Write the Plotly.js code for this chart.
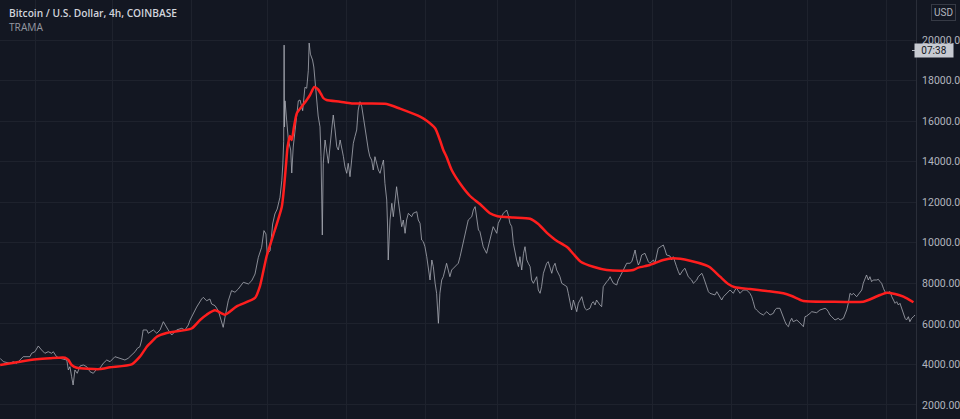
<!DOCTYPE html>
<html>
<head>
<meta charset="utf-8">
<script src="https://cdn.plot.ly/plotly-3.0.1.min.js"></script>
<style>
  html, body { margin: 0; padding: 0; background: #131722; }
  #chart { width: 960px; height: 419px; }
</style>
</head>
<body>
<div id="chart"></div>
<script>
// ---- Data ----
const chartTitle = 'Bitcoin / U.S. Dollar, 4h, COINBASE';
const indicatorName = 'TRAMA';
const currencyLabel = 'USD';
const countdownLabel = '07:38';

const priceTime = [
'2017-08-17 22:00','2017-08-19 05:00','2017-08-21 20:00','2017-08-23 02:00','2017-08-24 10:00','2017-08-25 17:00','2017-08-27 00:00','2017-08-29 15:00','2017-08-30 07:00','2017-08-31 14:00',
'2017-09-01 22:00','2017-09-03 05:00','2017-09-04 12:00','2017-09-05 19:00','2017-09-07 04:00','2017-09-07 19:00','2017-09-09 02:00','2017-09-10 10:00','2017-09-11 17:00','2017-09-13 02:00',
'2017-09-13 17:00','2017-09-14 08:00','2017-09-15 00:00','2017-09-15 14:00','2017-09-16 07:00','2017-09-17 05:00','2017-09-18 07:00','2017-09-19 14:00','2017-09-20 22:00','2017-09-22 05:00',
'2017-09-23 12:00','2017-09-24 19:00','2017-09-26 02:00','2017-09-27 10:00','2017-09-28 19:00','2017-09-30 02:00','2017-10-02 00:00','2017-10-04 00:00','2017-10-05 22:00','2017-10-07 05:00',
'2017-10-08 14:00','2017-10-09 22:00','2017-10-10 19:00','2017-10-11 19:00','2017-10-12 12:00','2017-10-13 02:00','2017-10-14 12:00','2017-10-15 02:00','2017-10-17 02:00','2017-10-18 10:00',
'2017-10-19 17:00','2017-10-21 00:00','2017-10-22 22:00','2017-10-24 07:00','2017-10-26 05:00','2017-10-28 05:00','2017-10-29 12:00','2017-10-30 19:00','2017-10-31 12:00','2017-11-01 18:00',
'2017-11-03 02:00','2017-11-05 01:00','2017-11-05 17:00','2017-11-07 00:00','2017-11-08 07:00','2017-11-08 23:00','2017-11-10 07:00','2017-11-11 14:00','2017-11-12 22:00','2017-11-13 12:00',
'2017-11-14 05:00','2017-11-15 12:00','2017-11-16 19:00','2017-11-18 03:00','2017-11-19 10:00','2017-11-21 10:00','2017-11-23 10:00','2017-11-24 17:00','2017-11-26 00:00','2017-11-27 07:00',
'2017-11-28 14:00','2017-11-29 12:00','2017-11-30 07:00','2017-11-30 19:00','2017-12-01 22:00','2017-12-02 22:00','2017-12-03 19:00','2017-12-04 17:00','2017-12-05 19:00','2017-12-06 12:00',
'2017-12-06 22:00','2017-12-07 06:00','2017-12-07 10:00','2017-12-07 14:00','2017-12-07 19:00','2017-12-08 10:00','2017-12-09 02:00','2017-12-10 00:00','2017-12-10 10:00','2017-12-11 00:00',
'2017-12-12 02:00','2017-12-13 00:00','2017-12-13 16:00','2017-12-14 17:00','2017-12-15 14:00','2017-12-16 07:00','2017-12-16 22:00','2017-12-17 06:00','2017-12-17 18:00','2017-12-18 14:00',
'2017-12-19 02:00','2017-12-19 12:00','2017-12-20 05:00','2017-12-20 19:00','2017-12-21 12:00','2017-12-21 22:00','2017-12-22 10:00','2017-12-22 19:00','2017-12-23 12:00','2017-12-24 19:00',
'2017-12-26 02:00','2017-12-26 17:00','2017-12-27 10:00','2017-12-28 02:00','2017-12-28 17:00','2017-12-29 10:00','2017-12-30 17:00','2017-12-31 07:00','2018-01-01 00:00','2018-01-01 14:00',
'2018-01-02 07:00','2018-01-03 00:00','2018-01-03 14:00','2018-01-04 05:00','2018-01-04 22:00','2018-01-05 12:00','2018-01-06 05:00','2018-01-06 22:00','2018-01-07 12:00','2018-01-08 05:00',
'2018-01-08 19:00','2018-01-09 12:00','2018-01-10 02:00','2018-01-10 19:00','2018-01-11 10:00','2018-01-12 02:00','2018-01-13 10:00','2018-01-14 02:00','2018-01-14 17:00','2018-01-15 10:00',
'2018-01-16 00:00','2018-01-16 17:00','2018-01-17 02:00','2018-01-17 07:00','2018-01-18 00:00','2018-01-18 17:00','2018-01-19 07:00','2018-01-20 14:00','2018-01-21 05:00','2018-01-21 22:00',
'2018-01-22 14:00','2018-01-23 05:00','2018-01-23 22:00','2018-01-24 12:00','2018-01-25 05:00','2018-01-26 12:00','2018-01-27 02:00','2018-01-28 12:00','2018-01-29 02:00','2018-01-29 19:00',
'2018-01-30 10:00','2018-01-31 02:00','2018-01-31 17:00','2018-02-01 10:00','2018-02-02 00:00','2018-02-02 17:00','2018-02-03 10:00','2018-02-04 00:00','2018-02-04 17:00','2018-02-05 07:00',
'2018-02-06 00:00','2018-02-06 14:00','2018-02-07 07:00','2018-02-07 22:00','2018-02-09 05:00','2018-02-10 12:00','2018-02-11 05:00','2018-02-12 12:00','2018-02-13 19:00','2018-02-14 12:00',
'2018-02-15 02:00','2018-02-15 19:00','2018-02-16 10:00','2018-02-17 02:00','2018-02-17 17:00','2018-02-19 02:00','2018-02-19 17:00','2018-02-20 10:00','2018-02-21 00:00','2018-02-21 17:00',
'2018-02-22 07:00','2018-02-23 14:00','2018-02-24 22:00','2018-02-26 05:00','2018-02-27 12:00','2018-02-28 22:00','2018-03-01 12:00','2018-03-02 19:00','2018-03-03 12:00','2018-03-04 19:00',
'2018-03-05 10:00','2018-03-06 02:00','2018-03-06 19:00','2018-03-07 10:00','2018-03-08 02:00','2018-03-08 17:00','2018-03-09 10:00','2018-03-10 00:00','2018-03-10 17:00','2018-03-11 10:00',
'2018-03-12 00:00','2018-03-12 17:00','2018-03-13 07:00','2018-03-14 00:00','2018-03-14 14:00','2018-03-15 07:00','2018-03-16 14:00','2018-03-17 05:00','2018-03-17 22:00','2018-03-18 12:00',
'2018-03-19 05:00','2018-03-20 12:00','2018-03-21 02:00','2018-03-21 19:00','2018-03-22 12:00','2018-03-23 02:00','2018-03-23 19:00','2018-03-24 10:00','2018-03-25 17:00','2018-03-26 10:00',
'2018-03-27 17:00','2018-03-28 10:00','2018-03-29 00:00','2018-03-29 17:00','2018-03-30 07:00','2018-03-31 00:00','2018-03-31 14:00','2018-04-01 07:00','2018-04-01 22:00','2018-04-02 14:00',
'2018-04-03 07:00','2018-04-03 22:00','2018-04-04 12:00','2018-04-05 05:00','2018-04-06 12:00','2018-04-07 05:00','2018-04-07 19:00','2018-04-08 12:00','2018-04-09 02:00','2018-04-10 10:00',
'2018-04-11 02:00','2018-04-11 17:00','2018-04-12 10:00','2018-04-13 02:00','2018-04-13 17:00','2018-04-14 10:00','2018-04-15 00:00','2018-04-15 17:00','2018-04-17 00:00','2018-04-17 14:00',
'2018-04-18 07:00','2018-04-18 22:00','2018-04-19 14:00','2018-04-20 07:00','2018-04-20 22:00','2018-04-22 05:00','2018-04-22 22:00','2018-04-23 12:00','2018-04-24 05:00','2018-04-24 19:00',
'2018-04-25 12:00','2018-04-26 02:00','2018-04-26 19:00','2018-04-28 02:00','2018-04-29 10:00','2018-04-30 00:00','2018-05-01 10:00','2018-05-02 00:00','2018-05-02 17:00','2018-05-03 07:00',
'2018-05-04 17:00','2018-05-05 07:00','2018-05-06 00:00','2018-05-06 14:00','2018-05-07 22:00','2018-05-08 14:00','2018-05-09 05:00','2018-05-09 22:00','2018-05-10 12:00','2018-05-11 05:00',
'2018-05-11 19:00','2018-05-13 02:00','2018-05-13 19:00','2018-05-15 02:00','2018-05-15 19:00','2018-05-16 10:00','2018-05-17 02:00','2018-05-18 10:00','2018-05-19 00:00','2018-05-19 17:00',
'2018-05-20 10:00','2018-05-21 00:00','2018-05-21 17:00','2018-05-22 07:00','2018-05-23 00:00','2018-05-23 14:00','2018-05-25 14:00','2018-05-26 07:00','2018-05-27 14:00','2018-05-28 05:00',
'2018-05-28 22:00','2018-05-29 14:00','2018-05-30 05:00','2018-05-30 22:00','2018-05-31 12:00','2018-06-01 19:00','2018-06-02 10:00','2018-06-03 02:00','2018-06-04 10:00','2018-06-05 17:00',
'2018-06-07 00:00','2018-06-08 07:00','2018-06-09 00:00','2018-06-09 14:00','2018-06-10 07:00','2018-06-10 22:00','2018-06-12 07:00','2018-06-13 14:00','2018-06-14 22:00','2018-06-16 05:00',
'2018-06-17 12:00','2018-06-18 02:00','2018-06-18 19:00','2018-06-20 02:00','2018-06-21 10:00','2018-06-22 02:00','2018-06-22 17:00','2018-06-23 10:00','2018-06-24 00:00','2018-06-24 17:00',
'2018-06-25 07:00','2018-06-26 17:00','2018-06-27 22:00','2018-06-28 14:00','2018-06-29 07:00','2018-06-29 22:00','2018-06-30 14:00','2018-07-01 22:00','2018-07-02 14:00','2018-07-04 12:00',
'2018-07-05 19:00','2018-07-07 19:00','2018-07-08 10:00','2018-07-09 02:00','2018-07-09 17:00','2018-07-10 10:00','2018-07-11 00:00','2018-07-11 17:00','2018-07-13 00:00','2018-07-13 17:00',
'2018-07-15 00:00','2018-07-15 14:00','2018-07-16 07:00','2018-07-16 22:00','2018-07-17 14:00','2018-07-18 07:00','2018-07-18 22:00','2018-07-20 05:00','2018-07-21 12:00','2018-07-22 05:00',
'2018-07-22 19:00','2018-07-23 12:00','2018-07-24 02:00','2018-07-24 19:00','2018-07-25 10:00','2018-07-26 02:00','2018-07-26 17:00','2018-07-28 02:00','2018-07-28 17:00','2018-07-29 10:00',
'2018-07-30 00:00','2018-07-30 17:00','2018-07-31 07:00','2018-08-01 00:00','2018-08-02 07:00','2018-08-03 00:00','2018-08-03 14:00','2018-08-04 07:00','2018-08-04 22:00','2018-08-05 14:00',
'2018-08-06 05:00','2018-08-06 22:00','2018-08-07 14:00','2018-08-08 05:00','2018-08-08 19:00','2018-08-09 12:00','2018-08-10 02:00','2018-08-10 19:00','2018-08-11 12:00','2018-08-12 02:00'
];

const priceValue = [
4300,4135,4056,4135,4056,4219,4382,4382,4549,4628,
4910,4712,4549,4628,4549,4628,4382,4303,4253,4219,
3726,3889,3396,2986,3726,3563,3923,3972,3889,3642,
3563,3761,3810,4056,4219,4135,4382,4303,4219,4303,
4466,4628,4796,4875,5206,5700,5700,5536,5700,5536,
5700,6108,5700,5450,5700,5780,5700,5945,6192,6500,
6830,7227,7310,7140,7227,6980,6900,6650,6160,5830,
6325,7140,7640,7560,7720,8050,7970,8130,8460,9280,
9776,10600,10433,9447,9610,10926,11419,11666,12243,13060,
13885,15000,19750,15710,17000,16055,15069,14575,13440,14723,
15857,17000,17041,16513,17667,17620,18486,19850,19300,19014,
18668,18027,16893,16252,15724,14245,10384,13919,15069,13919,
15562,16301,15562,14738,14575,15069,14245,13752,13426,13919,
13259,14245,14905,15231,15562,16548,16957,16711,16218,15562,
15069,14575,14245,14082,13589,14245,13589,13426,13752,14082,
12933,12110,10630,9151,11123,11947,11286,12765,12110,11453,
10793,11123,10467,11123,11453,11286,11453,11533,11123,10960,
10137,10053,9807,9313,8820,8164,9151,8820,8002,7508,
6029,7508,8164,8327,8988,8327,8658,8820,8988,9313,
9644,10137,10467,10793,11123,11286,11616,11780,11123,10630,
10550,9807,9481,10137,10793,10467,10960,11286,11453,11616,
11370,10960,10793,9974,9481,9151,8820,9313,8658,9481,
9807,9151,8988,8820,8164,8002,8327,7671,7508,7837,
8495,8988,9069,8820,8495,8820,8988,8658,8327,8002,
7918,7837,7508,7015,6685,7178,6848,6601,7015,7178,
7341,7015,6768,6685,6768,7015,7094,6932,7178,6932,
6848,7837,8002,8081,8164,8327,8164,8002,7918,8164,
8327,8495,8658,8904,8988,8988,9069,9313,9644,9233,
8904,9050,9397,9481,9069,8988,9151,8988,9397,9727,
9841,9890,9644,9397,9348,9151,9313,8988,8820,8574,
8411,8658,8741,8327,8248,8164,8002,8164,8327,8411,
8495,8327,8081,7837,7587,7508,7425,7587,7262,7178,
7341,7425,7508,7587,7671,7508,7671,7755,7508,7671,
7671,7508,7341,7094,6768,6685,6522,6438,6601,6438,
6522,6685,6768,6768,6275,6108,5945,5861,6108,6275,
6108,6192,6050,5945,5861,6354,6389,6522,6601,6552,
6685,6768,6719,6601,6438,6354,6275,6192,6275,6192,
6275,6438,6685,7015,7508,7425,7508,7341,7587,7671,
8002,8248,8411,8164,8327,8081,8164,8164,8199,8081,
8002,7755,7587,7508,7587,7341,7178,7015,7094,6932,
7015,6768,6522,6275,6192,6354,6108,6275,6354,6438
];

const tramaTime = [
'2017-08-17 22:00','2017-08-25 17:00','2017-09-01 07:00','2017-09-06 12:00','2017-09-12 10:00','2017-09-13 17:00','2017-09-15 00:00','2017-09-17 00:00','2017-09-26 02:00','2017-09-30 00:00',
'2017-10-08 14:00','2017-10-11 19:00','2017-10-14 12:00','2017-10-15 19:00','2017-10-18 10:00','2017-10-22 07:00','2017-11-01 02:00','2017-11-04 10:00','2017-11-07 00:00','2017-11-10 07:00',
'2017-11-14 05:00','2017-11-18 19:00','2017-11-26 00:00','2017-11-27 22:00','2017-11-30 14:00','2017-12-03 19:00','2017-12-06 12:00','2017-12-07 10:00','2017-12-08 05:00','2017-12-08 19:00',
'2017-12-09 17:00','2017-12-10 10:00','2017-12-11 07:00','2017-12-12 10:00','2017-12-14 07:00','2017-12-16 07:00','2017-12-17 14:00','2017-12-19 07:00','2017-12-20 19:00','2017-12-21 22:00',
'2017-12-22 19:00','2017-12-24 02:00','2017-12-29 10:00','2018-01-03 00:00','2018-01-16 17:00','2018-01-21 22:00','2018-01-29 19:00','2018-02-01 10:00','2018-02-04 17:00','2018-02-06 14:00',
'2018-02-07 22:00','2018-02-09 05:00','2018-02-11 05:00','2018-02-14 12:00','2018-02-18 10:00','2018-02-21 00:00','2018-02-22 07:00','2018-02-26 05:00','2018-03-01 05:00','2018-03-07 10:00',
'2018-03-14 00:00','2018-03-17 05:00','2018-03-20 12:00','2018-03-23 02:00','2018-03-24 10:00','2018-03-28 17:00','2018-03-31 00:00','2018-04-03 00:00','2018-04-07 19:00','2018-04-13 02:00',
'2018-04-19 14:00','2018-04-23 12:00','2018-04-25 12:00','2018-04-30 00:00','2018-05-05 07:00','2018-05-09 05:00','2018-05-15 19:00','2018-05-21 17:00','2018-05-23 14:00','2018-05-27 14:00',
'2018-05-30 19:00','2018-06-02 10:00','2018-06-08 07:00','2018-06-14 22:00','2018-06-21 10:00','2018-06-24 17:00','2018-06-29 07:00','2018-07-09 17:00','2018-07-22 19:00','2018-07-24 19:00',
'2018-07-29 10:00','2018-08-01 00:00','2018-08-04 07:00','2018-08-07 14:00','2018-08-11 12:00'
];

const tramaValue = [
3972,4135,4253,4303,4332,4219,3972,3839,3770,3859,
4007,4382,4875,5043,5368,5550,5772,6192,6453,6670,
6453,6867,7277,7853,9350,10630,11764,12765,13919,14738,
15266,15069,15710,16385,16711,17041,17288,17682,17559,17337,
17140,17041,16957,16869,16844,16612,16218,16020,15645,15069,
14575,14230,13589,12923,12307,12036,11912,11453,11306,11246,
11187,10926,10497,10221,10102,9767,9447,9052,8820,8658,
8623,8658,8771,8904,9151,9235,9116,8904,8791,8327,
7967,7804,7720,7621,7508,7375,7129,7094,7094,7178,
7425,7538,7474,7340,7065
];

const priceTicks = [2000, 4000, 6000, 8000, 10000, 12000, 14000, 16000, 18000, 20000];

// ---- Figure ----
const W = 916, H = 419; // plot area size in px (used only to place text overlays)

const traces = [
  {
    type: 'scatter', mode: 'lines', x: priceTime, y: priceValue,
    line: { color: 'rgba(170,173,182,0.78)', width: 1 },
    hoverinfo: 'skip'
  },
  {
    type: 'scatter', mode: 'lines', x: tramaTime, y: tramaValue,
    line: { color: '#ff1e1e', width: 2.5, shape: 'spline', smoothing: 0.6 },
    hoverinfo: 'skip'
  }
];

const layout = {
  width: 960, height: 419,
  margin: { l: 0, r: 44, t: 0, b: 0, pad: 0 },
  paper_bgcolor: '#131722',
  plot_bgcolor: '#131722',
  showlegend: false,
  font: { family: 'Roboto, sans-serif', color: '#b2b5be' },
  xaxis: {
    type: 'date',
    range: ['2017-08-17 21:00', '2018-08-12 12:00'],
    showticklabels: false,
    showgrid: true, gridcolor: '#1e222d', gridwidth: 1,
    tick0: '2017-09-01', dtick: 'M1',
    zeroline: false, showline: false, ticks: ''
  },
  yaxis: {
    side: 'right',
    range: [1309, 21973],
    tickmode: 'array', tickvals: priceTicks,
    ticktext: priceTicks.map(v => v.toFixed(2)),
    showgrid: true, gridcolor: '#1e222d', gridwidth: 1,
    zeroline: false,
    showline: true, linecolor: '#2a2e39', linewidth: 1,
    ticks: '', ticklabelstandoff: 3,
    tickfont: { family: 'Roboto, sans-serif', size: 10.5, color: '#b2b5be' }
  },
  annotations: [
    { text: chartTitle, xref: 'paper', yref: 'paper', x: 7 / W, y: 1 - 13 / H,
      xanchor: 'left', yanchor: 'middle', showarrow: false,
      font: { family: 'Open Sans, sans-serif', size: 10.2, color: '#d1d4dc', weight: 600 } },
    { text: indicatorName, xref: 'paper', yref: 'paper', x: 7 / W, y: 1 - 27.5 / H,
      xanchor: 'left', yanchor: 'middle', showarrow: false,
      font: { family: 'Open Sans, sans-serif', size: 10.2, color: '#9598a1' } },
    { text: currencyLabel, xref: 'paper', yref: 'paper', x: 943 / W, y: 1 - 13 / H,
      xanchor: 'center', yanchor: 'middle', showarrow: false,
      bordercolor: '#363a45', borderwidth: 1, borderpad: 2,
      font: { family: 'Roboto, sans-serif', size: 10, color: '#b2b5be' } },
    { text: countdownLabel, xref: 'paper', yref: 'paper', x: 934 / W, y: 1 - 50.5 / H,
      xanchor: 'center', yanchor: 'middle', showarrow: false,
      bgcolor: '#c7cad1', borderpad: 1, width: 36,
      font: { family: 'Roboto, sans-serif', size: 10, color: '#131722' } }
  ],
  shapes: [
    { type: 'line', xref: 'paper', yref: 'paper', x0: 912 / W, x1: 916 / W,
      y0: 1 - 50.5 / H, y1: 1 - 50.5 / H, line: { color: '#b2b5be', width: 1 } }
  ]
};

Plotly.newPlot('chart', traces, layout, { displayModeBar: false, staticPlot: true });
</script>
</body>
</html>
